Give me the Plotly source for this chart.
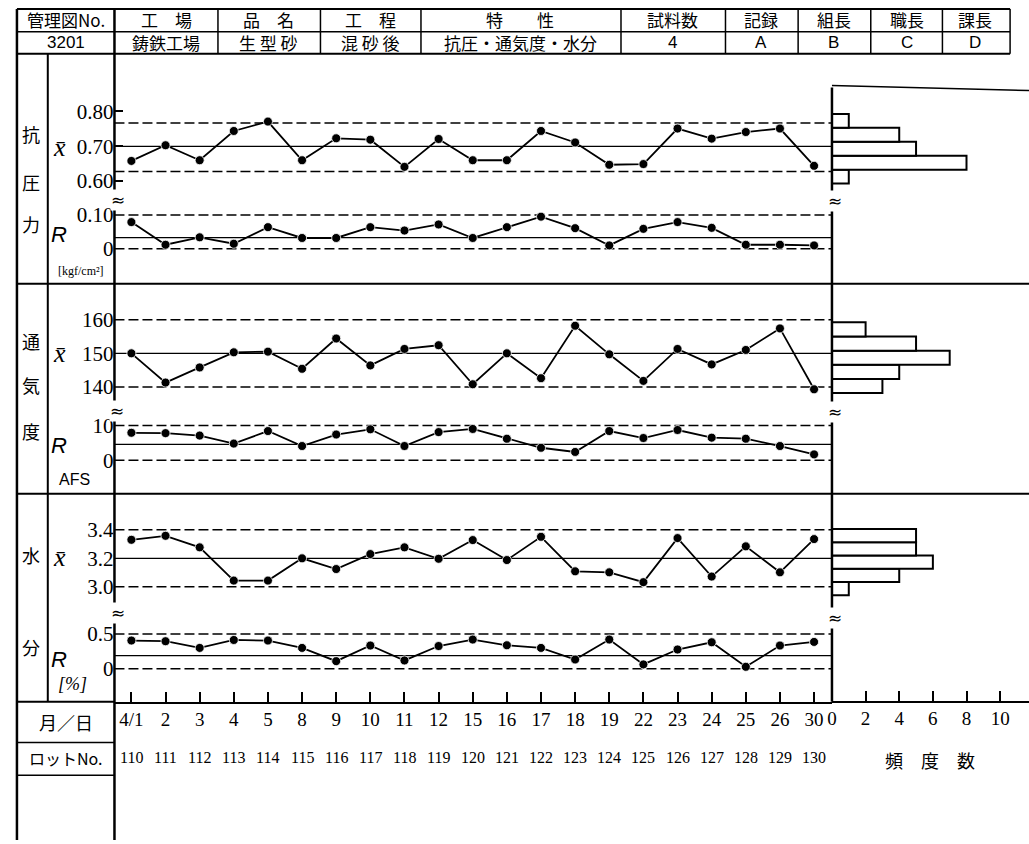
import plotly.graph_objects as go

W, H = 1029, 844

# ---------------- data ----------------
dates = ["4/1", "2", "3", "4", "5", "8", "9", "10", "11", "12", "15", "16", "17",
         "18", "19", "22", "23", "24", "25", "26", "30"]
lots = ["110", "111", "112", "113", "114", "115", "116", "117", "118", "119", "120",
        "121", "122", "123", "124", "125", "126", "127", "128", "129", "130"]

strength_xbar = [0.658, 0.703, 0.660, 0.744, 0.771, 0.660, 0.723, 0.719, 0.641, 0.721, 0.660,
                 0.660, 0.744, 0.711, 0.647, 0.649, 0.751, 0.722, 0.741, 0.751, 0.644]
strength_r = [0.079, 0.012, 0.034, 0.015, 0.064, 0.032, 0.032, 0.064, 0.054, 0.072, 0.032,
              0.064, 0.095, 0.061, 0.010, 0.059, 0.079, 0.062, 0.012, 0.012, 0.010]
perm_xbar = [150.0, 141.3, 145.8, 150.3, 150.5, 145.4, 154.4, 146.4, 151.3, 152.4, 140.8,
             150.0, 142.6, 158.2, 149.7, 141.8, 151.3, 146.7, 151.0, 157.4, 139.3]
perm_r = [7.9, 7.8, 7.1, 4.8, 8.4, 4.1, 7.4, 8.9, 4.1, 8.1, 9.0,
          6.2, 3.6, 2.4, 8.4, 6.4, 8.7, 6.5, 6.2, 4.1, 1.7]
moist_xbar = [3.330, 3.358, 3.277, 3.044, 3.044, 3.200, 3.125, 3.230, 3.277, 3.197, 3.328,
              3.188, 3.351, 3.109, 3.102, 3.033, 3.342, 3.072, 3.284, 3.102, 3.335]
moist_r = [0.406, 0.396, 0.300, 0.414, 0.406, 0.300, 0.110, 0.334, 0.120, 0.327, 0.420,
           0.338, 0.300, 0.134, 0.420, 0.063, 0.277, 0.381, 0.029, 0.334, 0.386]

# control limits: UCL, CL, LCL
strength_xbar_lim = [0.767, 0.700, 0.628]
strength_r_lim = [0.100, 0.033, 0.0]
perm_xbar_lim = [160.0, 150.0, 140.0]
perm_r_lim = [10.0, 4.6, 0.0]
moist_xbar_lim = [3.40, 3.20, 3.00]
moist_r_lim = [0.50, 0.19, 0.0]

# histograms (bin centres, counts)
strength_bins = [0.613, 0.653, 0.693, 0.733, 0.773]
strength_counts = [1, 8, 5, 4, 1]
perm_bins = [140.3, 144.5, 148.7, 152.9, 157.1]
perm_counts = [3, 4, 7, 5, 2]
moist_bins = [2.987, 3.080, 3.173, 3.266, 3.359]
moist_counts = [1, 4, 6, 5, 5]

freq_ticks = [0, 2, 4, 6, 8, 10]

# ---------------- helpers ----------------
def px(x):
    return x / W


def py(y):
    return 1 - y / H


JP = "Noto Sans CJK JP"
SERIF = "Liberation Serif"
SANS = "Liberation Sans"

fig = go.Figure()

# chart layout (pixel geometry): top, bottom, ref value, ref pixel, px per unit
panels = [
    dict(vals=strength_xbar, lim=strength_xbar_lim, top=95, bot=190, vref=0.70, pref=147, ppu=350,
         tv=[0.6, 0.7, 0.8], tt=["0.60", "0.70", "0.80"]),
    dict(vals=strength_r, lim=strength_r_lim, top=200, bot=272, vref=0.0, pref=250, ppu=340,
         tv=[0, 0.1], tt=["0", "0.10"]),
    dict(vals=perm_xbar, lim=perm_xbar_lim, top=298, bot=398, vref=150, pref=355, ppu=3.38,
         tv=[140, 150, 160], tt=["140", "150", "160"]),
    dict(vals=perm_r, lim=perm_r_lim, top=412, bot=490, vref=0, pref=462.5, ppu=3.5,
         tv=[0, 10], tt=["0", "10"]),
    dict(vals=moist_xbar, lim=moist_xbar_lim, top=510, bot=600, vref=3.2, pref=561, ppu=143.3,
         tv=[3.0, 3.2, 3.4], tt=["3.0", "3.2", "3.4"]),
    dict(vals=moist_r, lim=moist_r_lim, top=622, bot=705, vref=0, pref=672, ppu=70,
         tv=[0, 0.5], tt=["0", "0.5"]),
]

shapes = []
layout_axes = {}
for i, p in enumerate(panels):
    n = i + 1
    yname = "yaxis" if n == 1 else f"yaxis{n}"
    yref = "y" if n == 1 else f"y{n}"
    rng = [p["vref"] + (p["pref"] - p["bot"]) / p["ppu"], p["vref"] + (p["pref"] - p["top"]) / p["ppu"]]
    layout_axes[yname] = dict(
        domain=[py(p["bot"]), py(p["top"])], range=rng, anchor="x",
        tickvals=p["tv"], ticktext=p["tt"], ticks="inside" if n == 1 else "",
        ticklen=9, tickwidth=1.5, tickcolor="black",
        showgrid=False, zeroline=False, showline=False,
        tickfont=dict(family=SERIF, size=21, color="black"),
    )
    fig.add_trace(go.Scatter(
        x=list(range(len(dates))), y=p["vals"], mode="lines+markers", xaxis="x", yaxis=yref,
        line=dict(color="black", width=1.8),
        marker=dict(color="black", size=9, line=dict(color="white", width=0.8)),
        cliponaxis=False, showlegend=False, hoverinfo="skip",
    ))
    for k, v in enumerate(p["lim"]):
        shapes.append(dict(
            type="line", xref="x domain", x0=0, x1=1, yref=yref, y0=v, y1=v,
            line=dict(color="black", width=1.5 if k != 1 else 1.3,
                      dash="solid" if k == 1 else "10px,4px"),
            layer="below",
        ))

layout_axes["xaxis"] = dict(
    domain=[px(110), px(831)], range=[-0.496, 20.524], anchor="y6",
    tickvals=list(range(len(dates))), ticktext=dates,
    ticks="inside", ticklen=10, tickwidth=1.5, tickcolor="black",
    showline=True, linecolor="black", linewidth=2,
    showgrid=False, zeroline=False,
    tickfont=dict(family=SERIF, size=19, color="black"),
    tickangle=0,
)

# histograms
hists = [(strength_bins, strength_counts, 0, 0.04),
         (perm_bins, perm_counts, 2, 4.2),
         (moist_bins, moist_counts, 4, 0.093)]
for j, (bins, counts, pidx, bw) in enumerate(hists):
    n = 7 + j
    p = panels[pidx]
    rng = [p["vref"] + (p["pref"] - p["bot"]) / p["ppu"], p["vref"] + (p["pref"] - p["top"]) / p["ppu"]]
    layout_axes[f"yaxis{n}"] = dict(domain=[py(p["bot"]), py(p["top"])], range=rng,
                                    anchor="x2", visible=False)
    fig.add_trace(go.Bar(
        x=counts, y=bins, orientation="h", width=bw, base=0,
        marker=dict(color="white", line=dict(color="black", width=2)),
        xaxis="x2", yaxis=f"y{n}", showlegend=False, hoverinfo="skip",
    ))

layout_axes["xaxis2"] = dict(
    domain=[px(831), 1], range=[0, (W - 831) / 16.9], anchor="free", position=py(705),
    tickvals=freq_ticks, ticks="inside", ticklen=10, tickwidth=1.5, tickcolor="black",
    showline=True, linecolor="black", linewidth=2, showgrid=False, zeroline=False,
    tickfont=dict(family=SERIF, size=19, color="black"),
)

# ---------------- table lines ----------------
def hline(y, x0, x1, w=2):
    shapes.append(dict(type="line", xref="paper", yref="paper", x0=px(x0), x1=px(x1),
                       y0=py(y), y1=py(y), line=dict(color="black", width=w)))


def vline(x, y0, y1, w=2):
    shapes.append(dict(type="line", xref="paper", yref="paper", x0=px(x), x1=px(x),
                       y0=py(y0), y1=py(y1), line=dict(color="black", width=w)))


hline(9, 12, 1010)
hline(32, 12, 1010, 1.5)
hline(54, 12, 1010)
for xc in [214, 317, 418, 619, 724, 797, 870, 942, 1010]:
    vline(xc, 9, 54, 1.5)
vline(12, 9, 844, 2.5)
vline(43, 54, 705, 2)
vline(110, 9, 844, 2.5)
vline(831, 88, 705, 2.5)
shapes.append(dict(type="line", xref="paper", yref="paper", x0=px(831), x1=1,
                   y0=py(86), y1=py(91), line=dict(color="black", width=1.5)))
hline(285, 12, 1029)
hline(496, 12, 1029)
hline(705, 12, 110)
hline(746, 12, 110, 1.5)
hline(779, 12, 110, 1.5)

# ---------------- text ----------------
ann = []


def txt(x, y, s, size=18, family=JP, **kw):
    ann.append(dict(x=px(x), y=py(y), xref="paper", yref="paper", text=s, showarrow=False,
                    xanchor=kw.pop("xanchor", "center"), yanchor="middle",
                    font=dict(family=family, size=size, color="black"), **kw))


header1 = [(61, "管理図No."), (162, "工　場"), (265, "品　名"), (367, "工　程"), (518, "特　　性"),
           (671, "試料数"), (760, "記録"), (833, "組長"), (906, "職長"), (975, "課長")]
header2 = [(61, "3201"), (162, "鋳鉄工場"), (265, "生 型 砂"), (367, "混 砂 後"),
           (518, "抗圧・通気度・水分"), (671, "4"), (760, "A"), (833, "B"), (906, "C"), (975, "D")]
for xc, s in header1:
    txt(xc, 20, s, 17)
for xc, s in header2:
    txt(xc, 43, s, 17, family=JP if not s.isascii() else SANS)

for ch, yy in [("抗", 135), ("圧", 183), ("力", 225), ("通", 343), ("気", 387), ("度", 433),
               ("水", 558), ("分", 650)]:
    txt(26, yy, ch, 18)

for yy in [148, 355, 560]:
    txt(55, yy, "<i>x̄</i>", 26, family=SERIF)
for yy in [236, 448, 663]:
    txt(54, yy, "<i>R</i>", 22, family=SANS)
txt(76, 272, "[kgf/cm²]", 12, family=SERIF)
txt(70, 482, "AFS", 16, family=SANS)
txt(68, 687, "<i>[%]</i>", 18, family=SERIF)

txt(61, 725, "月／日", 18)
txt(61, 762, "ロットNo.", 16)
txt(930, 764, "頻　度　数", 18)

for i, lot in enumerate(lots):
    ann.append(dict(x=i, xref="x", y=py(761), yref="paper", text=lot, showarrow=False,
                    xanchor="center", yanchor="middle",
                    font=dict(family=SERIF, size=16, color="black")))

# axis break marks
for xb, yb in [(114, 201), (834, 202), (113, 413), (834, 414), (114, 616), (834, 621)]:
    txt(xb, yb, "≈", 17, family="DejaVu Sans", bgcolor="white", borderpad=0)

fig.update_layout(
    width=W, height=H, autosize=False,
    margin=dict(l=0, r=0, t=0, b=0),
    paper_bgcolor="white", plot_bgcolor="rgba(0,0,0,0)",
    showlegend=False, barmode="overlay",
    shapes=shapes, annotations=ann,
    **layout_axes,
)

fig.write_html(
    "out.html",
    config={"displayModeBar": False},
    post_script="document.body.style.margin='0';document.body.style.overflow='hidden';",
)
